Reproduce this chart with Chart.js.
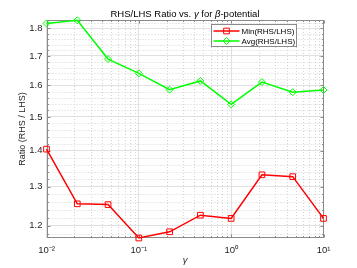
<!DOCTYPE html>
<html><head><meta charset="utf-8">
<script src="https://cdn.jsdelivr.net/npm/chart.js@4.4.1/dist/chart.umd.min.js"></script>
<style>html,body{margin:0;padding:0;background:#fff}canvas{display:block}</style>
</head><body>
<canvas id="c" width="357" height="268"></canvas>
<script>
// ---- data ----
const gammaValues = [0.01, 0.021544, 0.046416, 0.1, 0.21544, 0.46416, 1, 2.1544, 4.6416, 10];
const minRatio = [1.404, 1.255, 1.253, 1.170, 1.185, 1.226, 1.218, 1.332, 1.327, 1.218];
const avgRatio = [1.817, 1.829, 1.689, 1.640, 1.586, 1.615, 1.539, 1.611, 1.578, 1.585];
const seriesLabels = ['Min(RHS/LHS)', 'Avg(RHS/LHS)'];
const xTickValues = [0.01, 0.1, 1, 10];
const xTickLabels = ['10\u207B\u00B2', '10\u207B\u00B9', '10\u2070', '10\u00B9'];
const xMinorTicks = [0.02,0.03,0.04,0.05,0.06,0.07,0.08,0.09,0.2,0.3,0.4,0.5,0.6,0.7,0.8,0.9,2,3,4,5,6,7,8,9];
const yTickValues = [1.2, 1.3, 1.4, 1.5, 1.6, 1.7, 1.8];
const yTickLabels = ['1.2', '1.3', '1.4', '1.5', '1.6', '1.7', '1.8'];
const yMinorTicks = [1.18,1.22,1.24,1.26,1.28,1.32,1.34,1.36,1.38,1.42,1.44,1.46,1.48,1.52,1.54,1.56,1.58,1.62,1.64,1.66,1.68,1.72,1.74,1.76,1.78,1.82];
const xRange = [0.01, 10];
const yRange = [1.17, 1.83];
const titleParts = [['RHS/LHS Ratio vs. ', false], ['\u03B3', true], [' for ', false], ['\u03B2', true], ['-potential', false]];

const FONT = '"Liberation Sans", Arial, Helvetica, sans-serif';
const AX = '#262626';
const BOX = '#8a8a8a';

const matlabAxes = {
  id: 'matlabAxes',
  beforeDatasetsDraw(chart) {
    const {ctx, chartArea: a, scales: {x, y}} = chart;
    ctx.save();
    ctx.beginPath(); ctx.rect(a.left, a.top, a.right - a.left, a.bottom - a.top); ctx.clip();
    ctx.strokeStyle = '#d4d4d4'; ctx.lineWidth = 1; ctx.setLineDash([1, 2]);
    xMinorTicks.forEach(v => { const p = Math.round(x.getPixelForValue(v)) + 0.5; ctx.beginPath(); ctx.moveTo(p, a.top); ctx.lineTo(p, a.bottom); ctx.stroke(); });
    yMinorTicks.forEach(v => { const p = Math.round(y.getPixelForValue(v)) + 0.5; ctx.beginPath(); ctx.moveTo(a.left, p); ctx.lineTo(a.right, p); ctx.stroke(); });
    ctx.restore();
    ctx.save();
    ctx.strokeStyle = BOX; ctx.lineWidth = 1; ctx.setLineDash([]);
    const L = Math.round(a.left) + 0.5, R = Math.round(a.right) - 0.5, T = Math.round(a.top) + 0.5, B = Math.round(a.bottom) - 0.5;
    ctx.strokeRect(L, T, R - L, B - T);
    const tick = (vals, len, isX) => vals.forEach(v => {
      if (isX) { const p = Math.round(x.getPixelForValue(v)) + 0.5; ctx.beginPath(); ctx.moveTo(p, B); ctx.lineTo(p, B - len); ctx.moveTo(p, T); ctx.lineTo(p, T + len); ctx.stroke(); }
      else { const p = Math.round(y.getPixelForValue(v)) + 0.5; ctx.beginPath(); ctx.moveTo(L, p); ctx.lineTo(L + len, p); ctx.moveTo(R, p); ctx.lineTo(R - len, p); ctx.stroke(); }
    });
    tick(xTickValues, 3, true); tick(xMinorTicks, 1.5, true);
    tick(yTickValues, 3, false); tick(yMinorTicks, 1.5, false);
    ctx.restore();
  },
  afterDraw(chart) {
    const {ctx, chartArea: a} = chart;
    ctx.save();
    // title
    ctx.fillStyle = '#000'; ctx.textBaseline = 'alphabetic';
    const fnt = it => (it ? 'italic ' : '') + '9.5px ' + FONT;
    let total = 0;
    titleParts.forEach(([t, it]) => { ctx.font = fnt(it); total += ctx.measureText(t).width; });
    let tx = (a.left + a.right) / 2 - total / 2;
    titleParts.forEach(([t, it]) => { ctx.font = fnt(it); ctx.textAlign = 'left'; ctx.fillText(t, tx, 16.5); tx += ctx.measureText(t).width; });
    // legend
    const bx = 211.5, by = 24.5, bw = 85, bh = 22;
    ctx.fillStyle = '#fff'; ctx.fillRect(bx, by, bw, bh);
    ctx.strokeStyle = '#8a8a8a'; ctx.lineWidth = 1; ctx.strokeRect(bx, by, bw, bh);
    const rows = [31, 41];
    chart.data.datasets.forEach((ds, i) => {
      const yy = rows[i];
      ctx.strokeStyle = ds.borderColor; ctx.lineWidth = 1.5;
      ctx.beginPath(); ctx.moveTo(213.5, yy); ctx.lineTo(239.5, yy); ctx.stroke();
      ctx.lineWidth = 1; ctx.fillStyle = 'rgba(0,0,0,0)';
      Chart.helpers.drawPoint(ctx, {pointStyle: ds.pointStyle, radius: ds.pointRadius, borderWidth: 1, rotation: 0}, 226.5, yy);
      ctx.fillStyle = '#000'; ctx.font = '8px ' + FONT; ctx.textAlign = 'left'; ctx.textBaseline = 'middle';
      ctx.fillText(ds.label, 241.5, yy + 0.5);
    });
    ctx.restore();
  }
};

const mk = (vals) => gammaValues.map((g, i) => ({x: g, y: vals[i]}));

new Chart(document.getElementById('c'), {
  type: 'line',
  data: {
    datasets: [
      {label: seriesLabels[0], data: mk(minRatio), borderColor: '#ff0000', backgroundColor: 'rgba(0,0,0,0)',
       borderWidth: 1.5, pointStyle: 'rect', pointRadius: 4, pointBorderWidth: 1, pointBackgroundColor: 'rgba(0,0,0,0)', tension: 0, clip: false},
      {label: seriesLabels[1], data: mk(avgRatio), borderColor: '#00ff00', backgroundColor: 'rgba(0,0,0,0)',
       borderWidth: 1.5, pointStyle: 'rectRot', pointRadius: 3.5, pointBorderWidth: 1, pointBackgroundColor: 'rgba(0,0,0,0)', tension: 0, clip: false}
    ]
  },
  options: {
    responsive: false, animation: false, devicePixelRatio: 1,
    layout: {padding: {top: 20, right: 33.5, bottom: 0, left: 0}},
    plugins: {legend: {display: false}, title: {display: false}, tooltip: {enabled: false}},
    scales: {
      x: {
        type: 'logarithmic', min: xRange[0], max: xRange[1],
        afterBuildTicks: s => { s.ticks = xTickValues.map(v => ({value: v})); },
        afterFit: s => { s.height = 30; },
        grid: {color: '#e0e0e0', drawTicks: false, lineWidth: 1},
        border: {display: false},
        ticks: {autoSkip: false, maxRotation: 0, padding: 7, color: AX, font: {family: FONT, size: 9.5},
                callback: (v, i) => xTickLabels[i]},
        title: {display: true, text: '\u03B3', color: AX, padding: {top: 0, bottom: 2}, font: {family: FONT, size: 9.5, style: 'italic'}}
      },
      y: {
        type: 'logarithmic', min: yRange[0], max: yRange[1],
        afterBuildTicks: s => { s.ticks = yTickValues.map(v => ({value: v})); },
        afterFit: s => { s.width = 46.5; },
        grid: {color: '#e0e0e0', drawTicks: false, lineWidth: 1},
        border: {display: false},
        ticks: {autoSkip: false, padding: 4, color: AX, font: {family: FONT, size: 9.5},
                callback: (v, i) => yTickLabels[i]},
        title: {display: true, text: 'Ratio (RHS / LHS)', color: AX, padding: {top: 17, bottom: 0}, font: {family: FONT, size: 9}}
      }
    }
  },
  plugins: [matlabAxes]
});
</script>
</body></html>
